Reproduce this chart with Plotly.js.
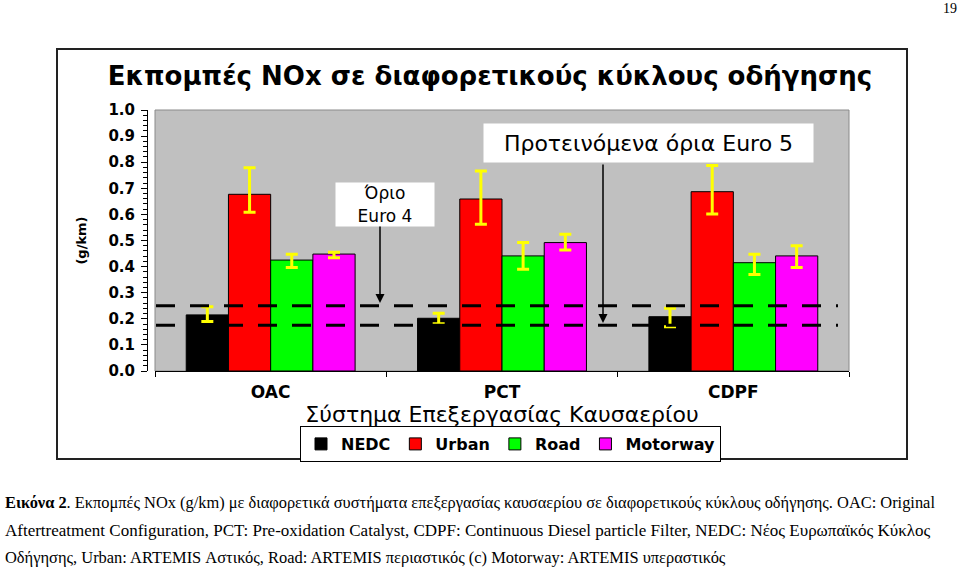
<!DOCTYPE html>
<html>
<head>
<meta charset="utf-8">
<script src="https://cdn.plot.ly/plotly-3.0.1.min.js"></script>
<style>
  html, body { margin: 0; padding: 0; background: #ffffff; }
  #chart { width: 960px; height: 569px; }
</style>
</head>
<body>
<div id="chart"></div>
<script>
// ---- data ----
const categories = ['OAC', 'PCT', 'CDPF'];
const seriesNames = ['NEDC', 'Urban', 'Road', 'Motorway'];
const nedc = [0.215, 0.202, 0.208];
const nedcErrPlus = [0.031, 0.019, 0.032];
const nedcErrMinus = [0.025, 0.021, 0.038];
const urban = [0.677, 0.659, 0.687];
const urbanErrPlus = [0.102, 0.107, 0.100];
const urbanErrMinus = [0.069, 0.097, 0.085];
const road = [0.425, 0.441, 0.415];
const roadErrPlus = [0.022, 0.051, 0.032];
const roadErrMinus = [0.028, 0.051, 0.045];
const motorway = [0.448, 0.492, 0.441];
const motorwayErrPlus = [0.007, 0.032, 0.039];
const motorwayErrMinus = [0.014, 0.028, 0.044];
const euro4Limit = 0.25;
const euro5Limit = 0.175;
const yTickVals = [0, 0.1, 0.2, 0.3, 0.4, 0.5, 0.6, 0.7, 0.8, 0.9, 1.0];

const chartTitle = 'Εκπομπές NOx σε διαφορετικούς κύκλους οδήγησης';
const xTitle = 'Σύστημα Επεξεργασίας Καυσαερίου';
const yTitle = '(g/km)';
const euro4Label = 'Όριο<br>Euro 4';
const euro5Label = 'Προτεινόμενα όρια Euro 5';
const captionLines = [
  '<b>Εικόνα 2</b>. Εκπομπές NOx (g/km) με διαφορετικά συστήματα επεξεργασίας καυσαερίου σε διαφορετικούς κύκλους οδήγησης. OAC: Original',
  'Aftertreatment Configuration, PCT: Pre-oxidation Catalyst, CDPF: Continuous Diesel particle Filter, NEDC: Νέος Ευρωπαϊκός Κύκλος',
  'Οδήγησης, Urban: ARTEMIS Αστικός, Road: ARTEMIS περιαστικός (c) Motorway: ARTEMIS υπεραστικός'
];
const pageNumber = '19';

// ---- geometry helpers (pixel -> paper) ----
const L = 147, R = 849, T = 110, B = 371;
const px = p => (p - L) / (R - L);
const py = p => (B - p) / (B - T);

const colors = ['#000000', '#ff0000', '#00ff00', '#ff00ff'];
const values = [nedc, urban, road, motorway];
const errP = [nedcErrPlus, urbanErrPlus, roadErrPlus, motorwayErrPlus];
const errM = [nedcErrMinus, urbanErrMinus, roadErrMinus, motorwayErrMinus];

const traces = seriesNames.map((name, i) => ({
  type: 'bar',
  name: name,
  x: categories,
  y: values[i],
  marker: { color: colors[i], line: { color: '#000000', width: 1 } },
  error_y: {
    type: 'data', symmetric: false,
    array: errP[i], arrayminus: errM[i],
    color: '#ffff00', thickness: 3, width: 6
  },
  hoverinfo: 'skip'
}));

const fam = 'DejaVu Sans, Arial, sans-serif';
const serif = 'Liberation Serif, Times New Roman, serif';
const captionY = [502, 530, 557];
const captionSize = [16.4, 17.0, 16.45];

const layout = {
  width: 960, height: 569,
  margin: { l: L, r: 960 - R, t: T, b: 569 - B, pad: 0 },
  paper_bgcolor: '#ffffff',
  plot_bgcolor: '#c0c0c0',
  showlegend: true,
  barmode: 'group',
  bargap: 0.27,
  bargroupgap: 0,
  title: {
    text: chartTitle,
    xref: 'container', yref: 'container',
    x: 490 / 960, y: 1 - 76 / 569,
    xanchor: 'center', yanchor: 'middle',
    font: { family: fam, size: 26, weight: 'bold', color: '#000000' }
  },
  xaxis: {
    domain: [px(155), 1],
    type: 'category',
    showline: true, linecolor: '#000000', linewidth: 1,
    ticks: 'outside', tickson: 'boundaries', ticklen: 5, tickcolor: '#000000',
    ticklabelstandoff: 6,
    tickfont: { family: fam, size: 17, weight: 'bold', color: '#000000' },
    showgrid: false, zeroline: false,
    title: { text: xTitle, standoff: 2, font: { family: fam, size: 22, color: '#000000' } }
  },
  yaxis: {
    anchor: 'free', position: 0,
    range: [0, 1],
    tickvals: yTickVals,
    tickformat: '.1f',
    showline: true, linecolor: '#000000', linewidth: 1,
    ticks: 'outside', ticklen: 6, tickcolor: '#000000',
    ticklabelstandoff: 3,
    minor: { dtick: 0.02, ticks: 'outside', ticklen: 4, tickcolor: '#000000', showgrid: false },
    tickfont: { family: fam, size: 15, weight: 'bold', color: '#000000' },
    showgrid: false, zeroline: false,
    title: { text: yTitle, standoff: 17, font: { family: fam, size: 13, weight: 'bold', color: '#000000' } }
  },
  legend: {
    orientation: 'h',
    x: px(510.5), y: py(426), xanchor: 'center', yanchor: 'top',
    bgcolor: '#ffffff', bordercolor: '#000000', borderwidth: 1,
    font: { family: fam, size: 16, weight: 'bold', color: '#000000' },
    itemwidth: 30,
    tracegroupgap: 0,
    traceorder: 'normal'
  },
  shapes: [
    // outer chart frame
    { type: 'rect', xref: 'paper', yref: 'paper', x0: px(57), x1: px(907), y0: py(459), y1: py(49),
      line: { color: '#222222', width: 2 }, fillcolor: 'rgba(0,0,0,0)', layer: 'below' },
    // plot-area border
    { type: 'rect', xref: 'paper', yref: 'paper', x0: px(155), x1: px(849), y0: 0, y1: 1,
      line: { color: '#8a8a8a', width: 1 }, fillcolor: 'rgba(0,0,0,0)', layer: 'below' },
    // limit lines
    { type: 'line', xref: 'paper', yref: 'y', x0: px(156), x1: px(838), y0: euro4Limit, y1: euro4Limit,
      line: { color: '#000000', width: 3, dash: '19px,15px' } },
    { type: 'line', xref: 'paper', yref: 'y', x0: px(156), x1: px(838), y0: euro5Limit, y1: euro5Limit,
      line: { color: '#000000', width: 3, dash: '19px,15px' } }
  ],
  annotations: [
    // Euro 4 label box
    { xref: 'paper', yref: 'paper', x: px(385), y: py(204.5), xanchor: 'center', yanchor: 'middle',
      text: euro4Label, showarrow: false, bgcolor: '#ffffff', width: 96, height: 41,
      font: { family: fam, size: 17, color: '#000000' } },
    // Euro 4 arrow
    { xref: 'paper', yref: 'paper', x: px(380), y: py(303), ax: 0, ay: -78, text: '',
      showarrow: true, arrowhead: 2, arrowsize: 1.2, arrowwidth: 1.5, arrowcolor: '#000000', standoff: 0 },
    // Euro 5 label box
    { xref: 'paper', yref: 'paper', x: px(648.5), y: py(143), xanchor: 'center', yanchor: 'middle',
      text: euro5Label, showarrow: false, bgcolor: '#ffffff', width: 327, height: 36,
      font: { family: fam, size: 22, color: '#000000' } },
    // Euro 5 arrow
    { xref: 'paper', yref: 'paper', x: px(603), y: py(323), ax: 0, ay: -160, text: '',
      showarrow: true, arrowhead: 2, arrowsize: 1.2, arrowwidth: 1.5, arrowcolor: '#000000', standoff: 0 },
    // page number
    { xref: 'paper', yref: 'paper', x: px(959), y: py(8), xanchor: 'right', yanchor: 'middle',
      text: pageNumber, showarrow: false, font: { family: serif, size: 14, color: '#000000' } },
    // caption lines
    ...captionLines.map((t, i) => ({
      xref: 'paper', yref: 'paper', x: px(3), y: py(captionY[i]), xanchor: 'left', yanchor: 'middle',
      text: t, showarrow: false, align: 'left',
      font: { family: serif, size: captionSize[i], color: '#000000' }
    }))
  ]
};

Plotly.newPlot('chart', traces, layout, { displayModeBar: false, staticPlot: true });
</script>
</body>
</html>
